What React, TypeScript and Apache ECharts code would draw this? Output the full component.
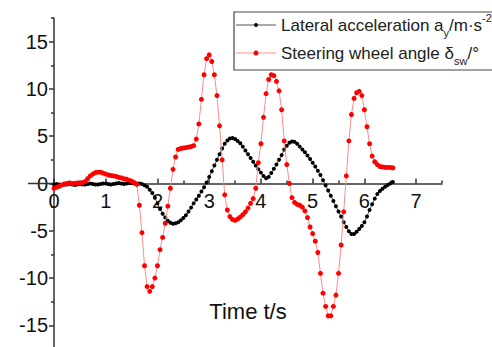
import React, { useEffect, useRef } from "react";
import * as echarts from "echarts";

// Sampling step of both recorded signals (s)
const TIME_STEP = 0.05;

// Lateral acceleration a_y (m/s^2), t = 0 .. 6.55 s
const lateralAccel = [
  -0.1, -0.05, -0.1, -0.15, -0.1, -0.1, -0.05, -0.1, -0.15, -0.1,
  -0.05, -0.1, -0.1, -0.05, 0.0, -0.05, -0.1, -0.1, -0.05, 0.0,
  0.0, -0.05, -0.1, -0.05, 0.0, 0.05, 0.0, -0.05, 0.0, 0.05,
  0.05, 0.0, 0.0,
  0.0, -0.05, -0.2, -0.35, -0.65, -1.0, -1.5, -2.1, -2.7, -3.2,
  -3.6, -3.95, -4.15, -4.25, -4.2, -4.1, -3.9, -3.65, -3.35, -2.95,
  -2.55, -2.1, -1.7, -1.3, -0.85, -0.4, 0.1, 0.7, 1.3, 1.9,
  2.5, 3.1, 3.7, 4.2, 4.55, 4.75, 4.8, 4.7, 4.5, 4.25,
  3.9, 3.5, 3.1, 2.7, 2.3, 1.9, 1.5, 1.15, 0.8, 0.55,
  0.7, 1.1, 1.55, 2.0, 2.5, 3.0, 3.6, 4.0, 4.3, 4.45,
  4.4, 4.2, 3.9, 3.6, 3.3, 2.95, 2.6, 2.2, 1.8, 1.35,
  0.9, 0.35, -0.2, -0.75, -1.3, -1.85, -2.4, -2.95, -3.5, -4.1,
  -4.6, -5.05, -5.35, -5.35, -5.1, -4.8, -4.5, -4.1, -3.5, -2.8,
  -2.2, -1.6, -1.1, -0.8, -0.55, -0.35, -0.15, 0.0, 0.15,
];

// Steering wheel angle δ_sw (°), t = 0 .. 6.55 s
const steeringAngle = [
  -0.5, -0.4, -0.3, -0.15, -0.05, 0.0, 0.05, 0.0, 0.0, 0.05,
  0.05, 0.1, 0.2, 0.5, 0.8, 1.0, 1.15, 1.2, 1.2, 1.1,
  1.0, 0.9, 0.85, 0.8, 0.75, 0.65, 0.6, 0.5, 0.45, 0.35,
  0.25, 0.1, -0.1,
  -2.3, -5.2, -8.7, -10.9, -11.4, -10.9, -10.0, -8.7, -7.0, -5.7,
  -4.2, -2.4, -0.5, 1.5, 2.8, 3.6, 3.7, 3.75, 3.8, 3.85,
  3.9, 4.0, 4.7, 6.3, 8.9, 11.5, 13.2, 13.6, 12.9, 11.5,
  9.3, 6.1, 2.5, -1.2, -2.8, -3.5, -3.8, -3.9, -3.75, -3.55,
  -3.3, -3.0, -2.6, -2.1, -1.6, -0.5, 2.2, 4.2, 7.0, 9.5,
  11.0, 11.5, 11.4, 10.8, 9.8, 7.8, 4.5, 2.0, 0.0, -1.5,
  -2.0, -2.2, -2.3, -2.5, -2.9, -3.6, -4.6, -5.3, -6.1, -7.3,
  -9.5, -11.6, -13.0, -14.0, -14.0, -13.0, -11.8, -9.5, -6.5, -3.0,
  0.8, 4.5, 7.3, 9.0, 9.6, 9.75, 9.3, 7.8, 6.0, 4.2,
  2.9, 2.3, 2.0, 1.8, 1.75, 1.7, 1.7, 1.7, 1.65,
];

const xTickValues = [0, 1, 2, 3, 4, 5, 6, 7];
const xMinorTickValues = [0.5, 1.5, 2.5, 3.5, 4.5, 5.5, 6.5, 7.5];
const yTickValues = [-15, -10, -5, 0, 5, 10, 15];
const yMinorTickValues = [-17.5, -12.5, -7.5, -2.5, 2.5, 7.5, 12.5, 17.5];

const X_MIN = 0;
const X_MAX = 7.5;
const Y_MIN = -17.5;
const Y_MAX = 17.5;

const FONT = "'Liberation Sans', Arial, sans-serif";
const AXIS_COLOR = "#333";

// layout (pixels)
const W = 492;
const H = 347;
const GRID_LEFT = 54;
const GRID_RIGHT = 50;
const GRID_TOP = 18;
const GRID_BOTTOM = -2;

function toPairs(values: number[]) {
  return values.map((v, i) => [Number((i * TIME_STEP).toFixed(2)), v]);
}

export default function App() {
  const ref = useRef<HTMLDivElement>(null);

  useEffect(() => {
    if (!ref.current) return;
    const chart = echarts.init(ref.current, undefined, { renderer: "svg" });

    const axisLineStyle = { color: AXIS_COLOR, width: 1.5 };
    const plotHeight = H - GRID_TOP - GRID_BOTTOM;
    const zeroY = GRID_TOP + (plotHeight * Y_MAX) / (Y_MAX - Y_MIN);
    const xOffset = -(H - GRID_BOTTOM - zeroY); // lift x axis to y = 0

    const xBase = {
      type: "value",
      min: X_MIN,
      max: X_MAX,
      splitLine: { show: false },
      position: "bottom",
      offset: xOffset,
    };
    const yBase = {
      type: "value",
      min: Y_MIN,
      max: Y_MAX,
      splitLine: { show: false },
      position: "left",
    };

    const legendRich = {
      t: { fontSize: 17, fontFamily: FONT, fill: "#222", lineHeight: 26, verticalAlign: "middle" },
      sub: { fontSize: 11, fontFamily: FONT, fill: "#222", lineHeight: 11, verticalAlign: "bottom" },
      sup: { fontSize: 11, fontFamily: FONT, fill: "#222", lineHeight: 11, verticalAlign: "top" },
    };

    chart.setOption({
      animation: false,
      backgroundColor: "#fff",
      grid: {
        left: GRID_LEFT,
        right: GRID_RIGHT,
        top: GRID_TOP,
        bottom: GRID_BOTTOM,
        containLabel: false,
        outerBoundsMode: "none",
      },
      xAxis: [
        {
          ...xBase,
          axisLine: { show: true, onZero: false, lineStyle: axisLineStyle },
          axisTick: {
            show: true,
            inside: true,
            length: 5,
            customValues: xTickValues,
            lineStyle: axisLineStyle,
          },
          axisLabel: {
            show: true,
            customValues: xTickValues,
            fontSize: 20,
            fontFamily: FONT,
            color: "#111",
            margin: 7,
          },
        },
        {
          ...xBase,
          axisLine: { show: false, onZero: false },
          axisTick: {
            show: true,
            inside: true,
            length: 3,
            customValues: xMinorTickValues,
            lineStyle: axisLineStyle,
          },
          axisLabel: { show: false },
        },
      ],
      yAxis: [
        {
          ...yBase,
          axisLine: { show: true, onZero: false, lineStyle: axisLineStyle },
          axisTick: {
            show: true,
            inside: false,
            length: 5,
            customValues: yTickValues,
            lineStyle: axisLineStyle,
          },
          axisLabel: {
            show: true,
            customValues: yTickValues,
            fontSize: 20,
            fontFamily: FONT,
            color: "#111",
            margin: 6,
          },
        },
        {
          ...yBase,
          axisLine: { show: false, onZero: false },
          axisTick: {
            show: true,
            inside: false,
            length: 3,
            customValues: yMinorTickValues,
            lineStyle: axisLineStyle,
          },
          axisLabel: { show: false },
        },
      ],
      series: [
        {
          name: "Lateral acceleration",
          type: "line",
          xAxisIndex: 0,
          yAxisIndex: 0,
          data: toPairs(lateralAccel),
          symbol: "circle",
          symbolSize: 4,
          showSymbol: true,
          lineStyle: { color: "#555", width: 1 },
          itemStyle: { color: "#000" },
          z: 3,
        },
        {
          name: "Steering wheel angle",
          type: "line",
          xAxisIndex: 0,
          yAxisIndex: 0,
          data: toPairs(steeringAngle),
          symbol: "circle",
          symbolSize: 5,
          showSymbol: true,
          lineStyle: { color: "#ff8c8c", width: 1 },
          itemStyle: { color: "#ff0000" },
          z: 4,
        },
      ],
      graphic: [
        // x axis line continues a little to the left of the y axis
        {
          type: "line",
          z: 1,
          shape: { x1: 28, y1: zeroY, x2: GRID_LEFT, y2: zeroY },
          style: { stroke: AXIS_COLOR, lineWidth: 1.5 },
        },
        {
          type: "text",
          x: 248,
          y: 311,
          z: 10,
          style: {
            text: "Time t/s",
            fontSize: 22,
            fontFamily: FONT,
            fill: "#111",
            align: "center",
            verticalAlign: "middle",
          },
        },
        {
          type: "rect",
          z: 20,
          shape: { x: 234, y: 12, width: 300, height: 58 },
          style: { fill: "#fff", stroke: "#444", lineWidth: 1.2 },
        },
        {
          type: "line",
          z: 21,
          shape: { x1: 236, y1: 25, x2: 276, y2: 25 },
          style: { stroke: "#555", lineWidth: 1 },
        },
        {
          type: "circle",
          z: 22,
          shape: { cx: 256, cy: 25, r: 2 },
          style: { fill: "#000" },
        },
        {
          type: "line",
          z: 21,
          shape: { x1: 236, y1: 53, x2: 276, y2: 53 },
          style: { stroke: "#ff8c8c", lineWidth: 1 },
        },
        {
          type: "circle",
          z: 22,
          shape: { cx: 256, cy: 53, r: 2.5 },
          style: { fill: "#ff0000" },
        },
        {
          type: "text",
          z: 22,
          x: 281,
          y: 25,
          style: {
            text: "{t|Lateral acceleration a}{sub|y}{t|/m·s}{sup|-2}",
            verticalAlign: "middle",
            align: "left",
            fill: "#222",
            rich: legendRich,
          },
        },
        {
          type: "text",
          z: 22,
          x: 281,
          y: 53,
          style: {
            text: "{t|Steering wheel angle δ}{sub|sw}{t|/°}",
            verticalAlign: "middle",
            align: "left",
            fill: "#222",
            rich: legendRich,
          },
        },
      ],
    });

    return () => chart.dispose();
  }, []);

  return (
    <div
      ref={ref}
      style={{ position: "fixed", left: 0, top: 0, width: W, height: H, background: "#fff" }}
    />
  );
}
